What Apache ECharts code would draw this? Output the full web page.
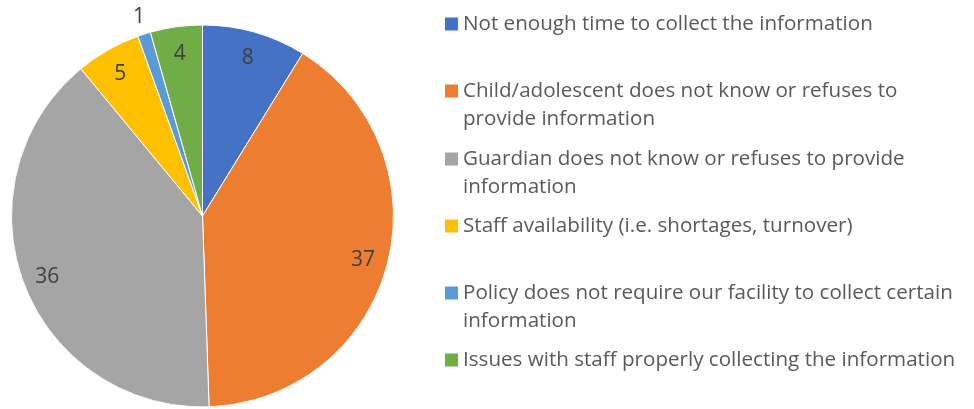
<!DOCTYPE html>
<html>
<head>
<meta charset="utf-8">
<script src="https://cdn.jsdelivr.net/npm/echarts@6/dist/echarts.min.js"></script>
<style>
  html, body { margin: 0; padding: 0; background: #fff; }
  #main { width: 974px; height: 409px; }
</style>
</head>
<body>
<div id="main"></div>
<script>
var categories = [
    'Not enough time to collect the information',
    'Child/adolescent does not know or refuses to provide information',
    'Guardian does not know or refuses to provide information',
    'Staff availability (i.e. shortages, turnover)',
    'Policy does not require our facility to collect certain information',
    'Issues with staff properly collecting the information'
];
var values = [8, 37, 36, 5, 1, 4];
var colors = ['#4472C4', '#ED7D31', '#A5A5A5', '#FFC000', '#5B9BD5', '#70AD47'];

var fontFamily = '"Open Sans", "Liberation Sans", sans-serif';
var fontSize = 20.6;
var lineH = 28;
var wrapWidth = 500;

// wrap legend text like the original (measured with the same font)
var ctx = document.createElement('canvas').getContext('2d');
ctx.font = fontSize + 'px ' + fontFamily;
function wrap(text) {
    var words = text.split(' ');
    var lines = [], cur = '';
    words.forEach(function (w) {
        var t = cur ? cur + ' ' + w : w;
        if (ctx.measureText(t).width > wrapWidth && cur) {
            lines.push(cur);
            cur = w;
        } else {
            cur = t;
        }
    });
    lines.push(cur);
    return lines;
}

// icon centre (y) for each legend row
var rowCenters = [24, 91, 159, 226, 293, 360];

var legends = categories.map(function (name, i) {
    var lines = wrap(name);
    var multi = lines.length > 1;
    // an empty first line keeps the icon level with the first text line
    var text = multi ? '\n' + lines.join('\n') : lines[0];
    return {
        data: [name],
        left: 445,
        top: multi ? rowCenters[i] - lineH * 1.5 : rowCenters[i] - lineH / 2,
        padding: 0,
        itemWidth: 13,
        itemHeight: 13,
        icon: 'rect',
        selectedMode: false,
        itemStyle: { borderWidth: 0 },
        formatter: function () { return text; },
        textStyle: {
            color: '#595959',
            fontSize: fontSize,
            fontFamily: fontFamily,
            lineHeight: lineH
        }
    };
});

var pieData = categories.map(function (name, i) {
    return { name: name, value: values[i], itemStyle: { color: colors[i] } };
});

var labelData = categories.map(function (name, i) {
    var d = { name: name, value: values[i] };
    if (values[i] < 3) {
        d.label = { position: 'outside', distanceToLabelLine: -7 };
    }
    return d;
});

var myChart = echarts.init(document.getElementById('main'));
var option = {
    backgroundColor: '#fff',
    animation: false,
    legend: legends,
    series: [{
        type: 'pie',
        center: [202.5, 216],
        radius: [0, 191],
        startAngle: 90,
        clockwise: true,
        data: pieData,
        label: { show: false },
        labelLine: { show: false },
        itemStyle: { borderColor: '#fff', borderWidth: 1 },
        emphasis: { disabled: true }
    }, {
        // transparent ring, only used to place the value labels near the rim
        type: 'pie',
        center: [202.5, 218],
        radius: [135, 191],
        startAngle: 90,
        clockwise: true,
        silent: true,
        avoidLabelOverlap: false,
        data: labelData,
        itemStyle: { color: 'rgba(0,0,0,0)', borderWidth: 0 },
        label: {
            show: true,
            position: 'inside',
            formatter: '{c}',
            color: '#404040',
            fontSize: 21,
            fontFamily: fontFamily
        },
        labelLine: { show: false, length: 20, length2: 0 },
        emphasis: { disabled: true }
    }]
};
myChart.setOption(option);
</script>
</body>
</html>
